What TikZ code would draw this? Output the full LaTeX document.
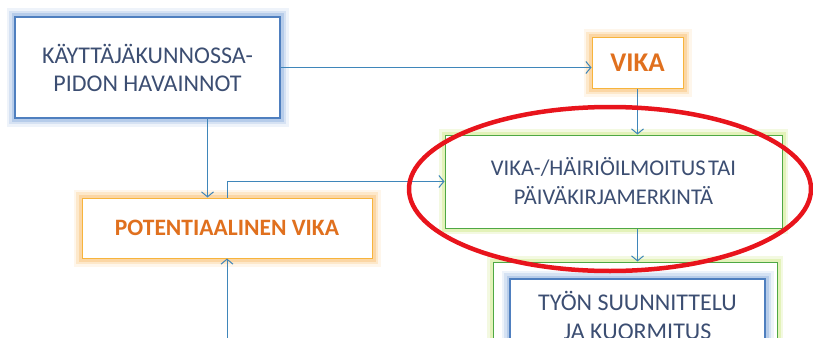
\documentclass[tikz,border=0pt]{standalone}
\usepackage{fontspec}
\setmainfont{Carlito}
\usetikzlibrary{arrows.meta}

\definecolor{blueedge}{HTML}{4F7FBF}
\definecolor{blueglow}{HTML}{A9C3E6}
\definecolor{orangeedge}{HTML}{F7B43C}
\definecolor{orangeglow}{HTML}{FBD29A}
\definecolor{greenedge}{HTML}{4EA844}
\definecolor{greenglow}{HTML}{DCEFA8}
\definecolor{textblue}{HTML}{3C4E72}
\definecolor{textorange}{HTML}{E0701E}
\definecolor{arrowblue}{HTML}{3F86BA}
\definecolor{ringred}{HTML}{E8141C}

\begin{document}
\begin{tikzpicture}[x=1pt, y=-1pt,
    every node/.style = {shape=rectangle, inner sep=0pt, align=center},
    bluebox/.style = {preaction={draw=blueglow, line width=17pt, opacity=.2},
                      preaction={draw=blueglow, line width=12pt, opacity=.35},
                      preaction={draw=blueglow, line width=7pt, opacity=.7},
                      draw=blueedge, line width=1.4pt, fill=white,
                      text=textblue, font=\fontsize{24}{28}\selectfont},
    orangebox/.style = {preaction={draw=orangeglow, line width=17pt, opacity=.2},
                        preaction={draw=orangeglow, line width=12pt, opacity=.4},
                        preaction={draw=orangeglow, line width=7pt, opacity=.8},
                        draw=orangeedge, line width=1pt, fill=white,
                        text=textorange, font=\fontsize{23.5}{28}\selectfont\bfseries},
    greenbox/.style = {preaction={draw=greenglow, line width=12pt, opacity=.35},
                       preaction={draw=greenglow, line width=7pt, opacity=.7},
                       draw=greenedge, line width=1pt, fill=white,
                       text=textblue, font=\fontsize{22.5}{29}\selectfont},
    flow/.style = {draw=arrowblue, line width=1pt,
                   -{Straight Barb[length=5pt, width=12pt]}}]
\useasboundingbox (0,0) rectangle (813,337);
\clip (0,0) rectangle (813,337);

\node[bluebox, minimum width=265pt, minimum height=101pt] (havainnot) at (147.5,67.5)
  {KÄYTTÄJÄKUNNOSSA-\\PIDON HAVAINNOT};
\node[orangebox, minimum width=91pt, minimum height=50pt,
      font=\fontsize{27}{30}\selectfont\bfseries] (vika) at (637.5,63) {VIKA};
\node[greenbox, minimum width=337pt, minimum height=93pt] (ilmoitus) at (613.5,181.5)
  {VIKA-/HÄIRIÖILMOITUS\hspace{-2.5pt} TAI\\PÄIVÄKIRJAMERKINTÄ};
\node[orangebox, minimum width=290pt, minimum height=60pt] (potvika) at (227,228)
  {POTENTIAALINEN VIKA};
\node[greenbox, minimum width=284pt, minimum height=106pt] (suunnittelu) at (635,315) {};
\node[bluebox, minimum width=255pt, minimum height=72pt,
      font=\fontsize{24}{29}\selectfont] (kuormitus) at (637.5,315)
  {TYÖN SUUNNITTELU\\JA KUORMITUS};

\coordinate (alku) at (227,345);

\draw[flow] (havainnot.east) -- (havainnot.east -| vika.west);
\draw[flow] (vika.south) -- (vika.south |- ilmoitus.north);
\draw[flow] (ilmoitus.south -| vika.south) -- (vika.south |- suunnittelu.north);
\draw[flow] ([xshift=60pt]havainnot.south) -- ([xshift=60pt]havainnot.south |- potvika.north);
\draw[flow] (potvika.north) |- (ilmoitus.west);
\draw[flow] (alku) -- (potvika.south);

\draw[ringred, line width=4.5pt] (610,189) ellipse [x radius=201, y radius=82];
\end{tikzpicture}
\end{document}
